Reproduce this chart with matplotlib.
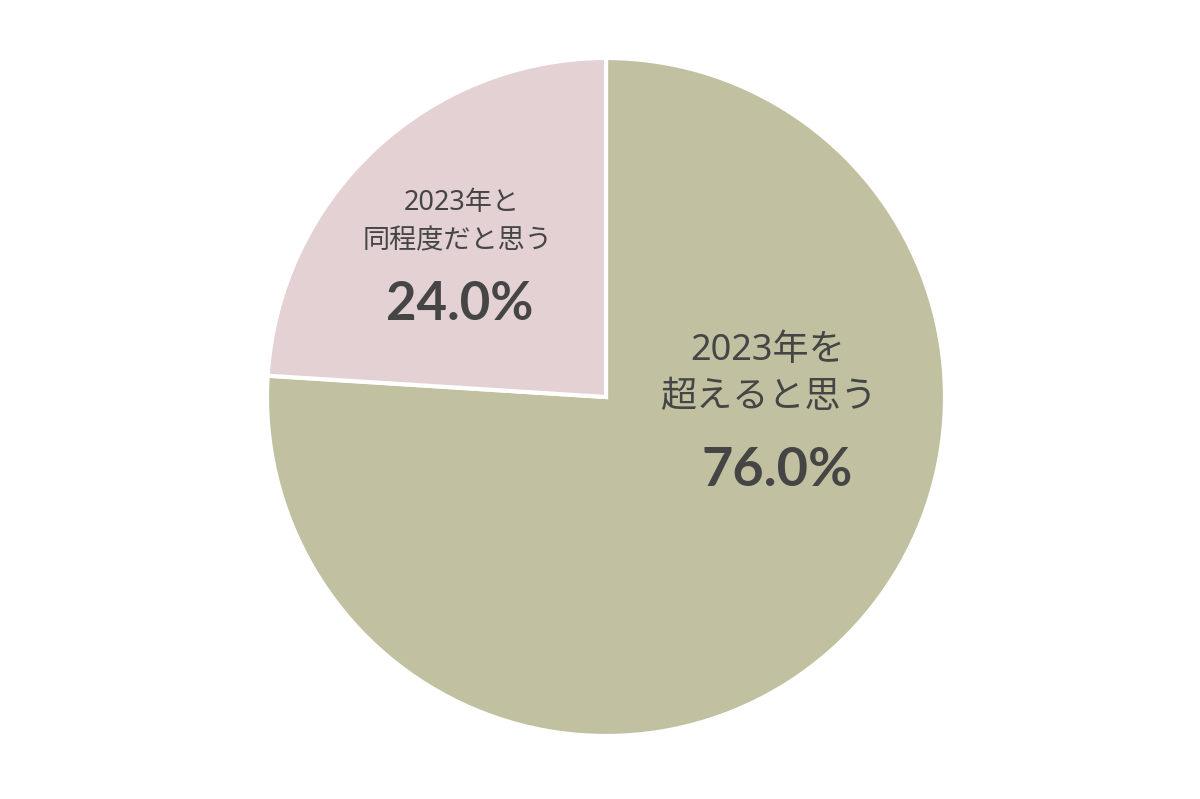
import matplotlib
matplotlib.use("Agg")
import matplotlib.pyplot as plt

plt.rcParams['font.family'] = ['Noto Sans', 'Noto Sans CJK JP', 'DejaVu Sans']

labels = ["2023年を\n超えると思う", "2023年と\n同程度だと思う"]
values = [76.0, 24.0]
colors = ["#c1c1a1", "#e3d1d3"]
text_color = "#454545"

fig = plt.figure(figsize=(12, 7.99), dpi=100)
W, H = 1200, 799
cx, cy, r = 606, 397, 339
ax = fig.add_axes([(cx - r) / W, (H - cy - r) / H, 2 * r / W, 2 * r / H])
ax.pie(values, colors=colors, startangle=90, counterclock=False, radius=1,
       wedgeprops=dict(edgecolor="white", linewidth=3))
ax.set_xlim(-1, 1)
ax.set_ylim(-1, 1)
ax.set_aspect('equal')
ax.axis('off')

def px(x, y):
    return ((x - cx) / r, (cy - y) / r)

fam = ['Noto Sans', 'Noto Sans CJK JP', 'DejaVu Sans']
pfam = ['Lato', 'DejaVu Sans']

# green label
lines0 = labels[0].split("\n")
ax.text(*px(768, 351), lines0[0], ha='center', va='center', fontsize=26, color=text_color, family=fam)
ax.text(*px(768, 398), lines0[1], ha='center', va='center', fontsize=26, color=text_color, family=fam)
ax.text(*px(777, 471), f"{values[0]:.1f}%", ha='center', va='center', fontsize=39,
        fontweight='bold', color=text_color, family=pfam)

# pink label
lines1 = labels[1].split("\n")
ax.text(*px(462, 203), lines1[0], ha='center', va='center', fontsize=19.5, color=text_color, family=fam)
ax.text(*px(458, 241), lines1[1], ha='center', va='center', fontsize=19.5, color=text_color, family=fam)
ax.text(*px(460, 305), f"{values[1]:.1f}%", ha='center', va='center', fontsize=38,
        fontweight='bold', color=text_color, family=pfam)

fig.savefig("out.png", dpi=100, facecolor="white")
